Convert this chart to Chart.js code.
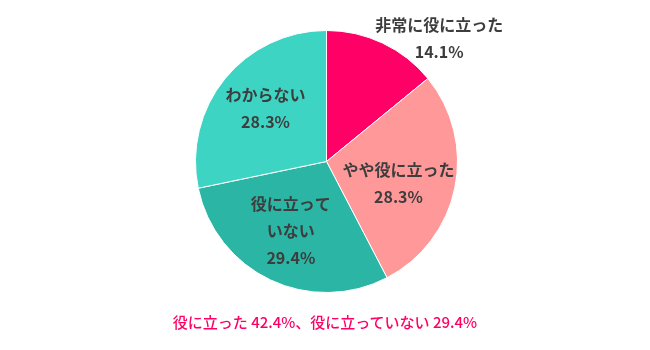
<!DOCTYPE html>
<html>
<head>
<meta charset="utf-8">
<script src="https://cdn.jsdelivr.net/npm/chart.js@4"></script>
<style>
  body { margin: 0; background: #fff; }
  #wrap { position: relative; width: 650px; height: 350px; }
  #caption {
    position: absolute; left: 0; width: 650px; top: 311px;
    text-align: center; color: #ff0066;
    font: 500 15px "Noto Sans CJK JP", sans-serif;
  }
</style>
</head>
<body>
<div id="wrap">
  <canvas id="pie"></canvas>
  <div id="caption">役に立った 42.4%、役に立っていない 29.4%</div>
</div>
<script>
const categories = ["非常に役に立った", "やや役に立った", "役に立っていない", "わからない"];
const labelLines = [["非常に役に立った"], ["やや役に立った"], ["役に立って", "いない"], ["わからない"]];
const values = [14.1, 28.3, 29.4, 28.3];
const colors = ["#ff0066", "#ff9999", "#2ab5a4", "#3dd4c3"];
// small nudges for label blocks (the first one sits outside the pie)
const labelNudge = [[79, -52], [-5, 6], [-2, -2], [0, -3]];

const sliceLabels = {
  id: "sliceLabels",
  afterDatasetsDraw(chart) {
    const ctx = chart.ctx;
    const meta = chart.getDatasetMeta(0);
    ctx.save();
    ctx.fillStyle = "#3d3d3d";
    ctx.font = "bold 16px 'Noto Sans CJK JP', sans-serif";
    ctx.textAlign = "center";
    ctx.textBaseline = "middle";
    meta.data.forEach((arc, i) => {
      const p = arc.getProps(["x", "y", "startAngle", "endAngle", "outerRadius"], true);
      const mid = (p.startAngle + p.endAngle) / 2;
      const r = p.outerRadius * 0.6;
      const cx = p.x + Math.cos(mid) * r + labelNudge[i][0];
      const cy = p.y + Math.sin(mid) * r + labelNudge[i][1];
      const lines = labelLines[i].concat([values[i].toFixed(1) + "%"]);
      lines.forEach((t, k) => {
        ctx.fillText(t, cx, cy + (k - (lines.length - 1) / 2) * 27);
      });
    });
    ctx.restore();
  }
};

new Chart(document.getElementById("pie"), {
  type: "pie",
  data: {
    labels: categories,
    datasets: [{
      data: values,
      backgroundColor: colors,
      borderColor: "#ffffff",
      borderWidth: 1,
      hoverOffset: 0,
      radius: 131
    }]
  },
  options: {
    responsive: true,
    maintainAspectRatio: false,
    animation: false,
    layout: { padding: { left: 3, right: 0, top: 0, bottom: 27 } },
    plugins: {
      legend: { display: false },
      tooltip: { enabled: false }
    }
  },
  plugins: [sliceLabels]
});
</script>
</body>
</html>
